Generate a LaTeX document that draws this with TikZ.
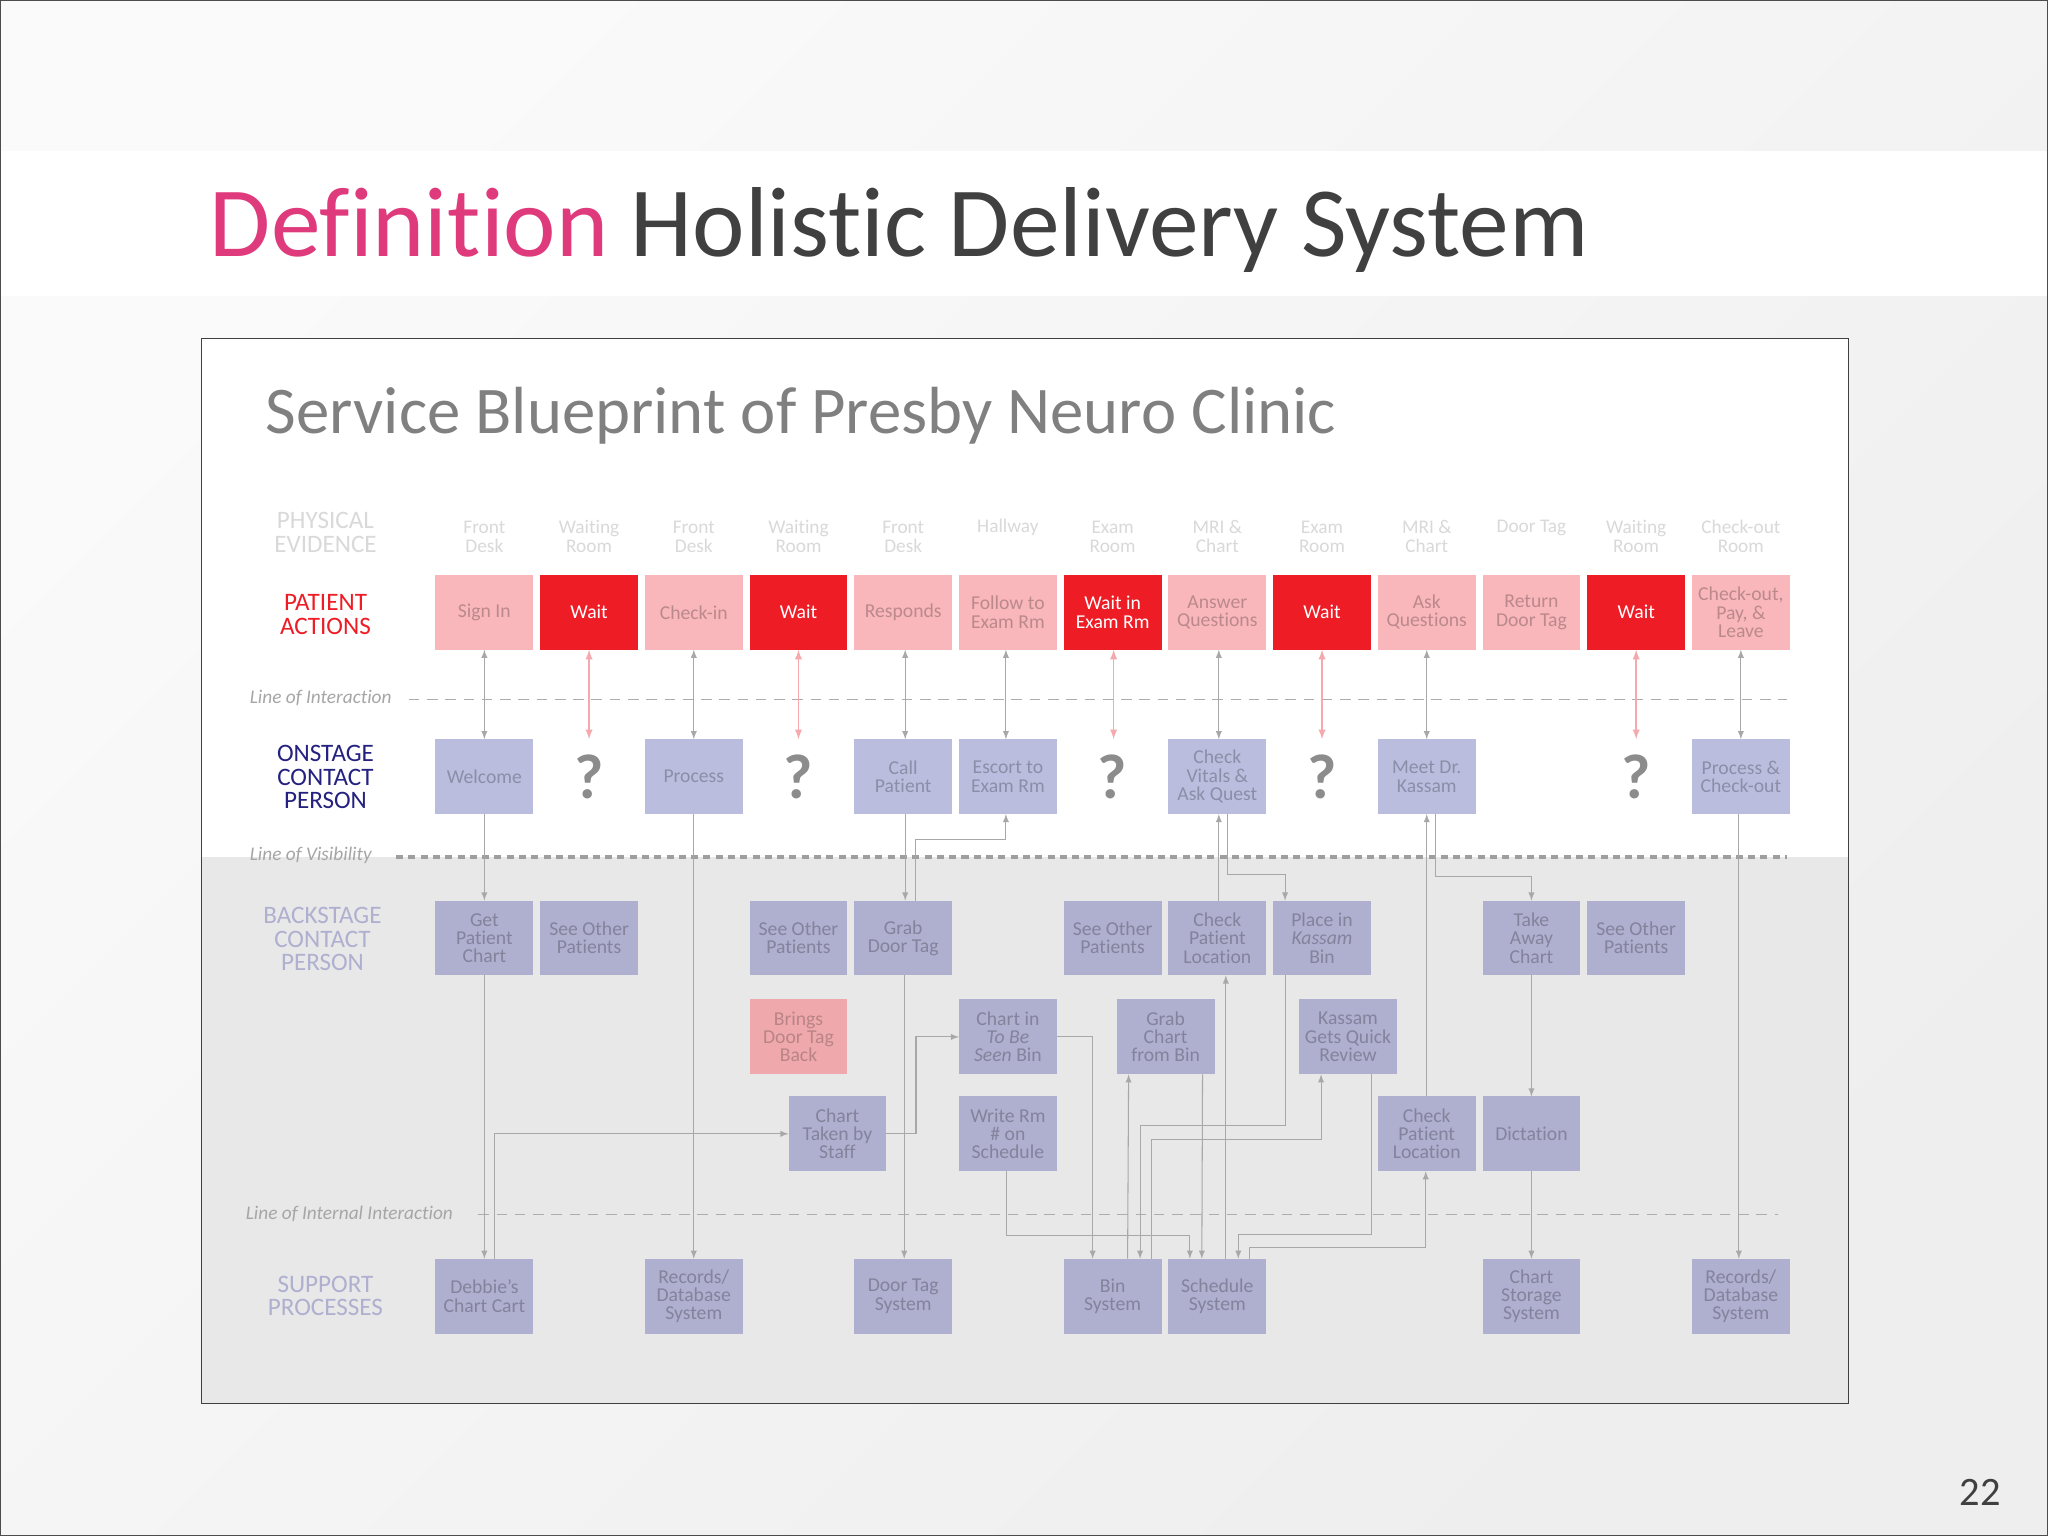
\documentclass[tikz,border=0pt]{standalone}
\usepackage{fontspec}
\setmainfont{Carlito}[Ligatures=NoCommon]
\usetikzlibrary{positioning, arrows, calc}

\definecolor{pagelight}{HTML}{FAFAFA}
\definecolor{pagegray}{HTML}{EEEEEE}
\definecolor{panelgray}{HTML}{E8E8E8}
\definecolor{titlepink}{HTML}{DF3A7C}
\definecolor{titledark}{HTML}{404040}
\definecolor{lightpink}{HTML}{F9B7BB}
\definecolor{waitred}{HTML}{EE1C25}
\definecolor{onblue}{HTML}{BBBDDF}
\definecolor{backblue}{HTML}{AFAFD0}
\definecolor{bringpink}{HTML}{EFA9AC}
\definecolor{linkgray}{HTML}{A8A8A8}
\definecolor{linkpink}{HTML}{F5A9AE}

\begin{document}
\begin{tikzpicture}[x=0.02cm, y=-0.02cm,
        boxbase/.style={rectangle, minimum width=1.96cm, minimum height=1.5cm, inner sep=0pt, outer sep=0pt, align=center, font=\fontsize{11.2}{10.4}\selectfont},
        pinkbox/.style={boxbase, fill=lightpink, text=black!25!lightpink},
        redbox/.style={boxbase, fill=waitred, text=white},
        onbox/.style={boxbase, fill=onblue, text=black!25!onblue},
        backbox/.style={boxbase, fill=backblue, text=black!25!backblue},
        bringbox/.style={boxbase, fill=bringpink, text=black!22!bringpink},
        askmark/.style={minimum width=1.96cm, minimum height=1.5cm, inner sep=0pt, outer sep=0pt, text=black!45, font=\fontsize{36}{36}\selectfont\bfseries},
        evid/.style={minimum width=1.96cm, inner sep=0pt, outer sep=0pt, align=center, text=black!15, font=\fontsize{11}{11}\selectfont},
        rowlabel/.style={inner sep=0pt, align=center, font=\fontsize{14.3}{13.5}\selectfont},
        linelabel/.style={inner sep=0pt, text=black!35, font=\fontsize{11}{11}\selectfont\itshape},
        link/.style={draw=linkgray, line width=0.6pt, -latex},
        both/.style={draw=linkgray, line width=0.6pt, latex-latex},
        pinklink/.style={draw=linkpink, line width=0.9pt, latex-latex},
        node distance=0.136cm]

        % Fondo
        \shade[shading=axis, top color=pagelight, bottom color=pagegray, shading angle=45] (0,0) rectangle (2048,1536);
        \fill[white] (0,150) rectangle (2048,296);
        \draw[black!70, line width=0.8pt] (0,0) rectangle (2048,1536);
        \fill[white] (201,338) rectangle (1849,857);
        \fill[panelgray] (201,857) rectangle (1849,1404);
        \draw[black!75, line width=0.7pt] (201,338) rectangle (1849,1404);

        % Titulos
        \node (head) [anchor=base west, inner sep=0pt, text=titledark, font=\fontsize{56.6}{57}\selectfont] at (209,256) {\textcolor{titlepink}{Definition} Holistic Delivery System};
        \node (sub) [anchor=base west, inner sep=0pt, text=black!50, font=\fontsize{38}{38}\selectfont] at (265,433) {Service Blueprint of Presby Neuro Clinic};
        \node (page) [inner sep=0pt, text=titledark, font=\fontsize{23}{23}\selectfont] at (1981,1493) {22};

        % Acciones del paciente
        \node (signin) [pinkbox] at (484,612) {Sign In};
        \node (wait1) [redbox, right=of signin] {Wait};
        \node (checkin) [pinkbox, right=of wait1] {Check-in};
        \node (wait2) [redbox, right=of checkin] {Wait};
        \node (responds) [pinkbox, right=of wait2] {Responds};
        \node (follow) [pinkbox, right=of responds] {Follow to\\Exam Rm};
        \node (waitexam) [redbox, right=of follow] {Wait in\\Exam Rm};
        \node (answer) [pinkbox, right=of waitexam] {Answer\\Questions};
        \node (wait3) [redbox, right=of answer] {Wait};
        \node (ask) [pinkbox, right=of wait3] {Ask\\Questions};
        \node (returntag) [pinkbox, right=of ask] {Return\\Door Tag};
        \node (wait4) [redbox, right=of returntag] {Wait};
        \node (leave) [pinkbox, right=of wait4] {Check-out,\\Pay, \&\\Leave};

        % Evidencia fisica
        \node (ev1) [evid, above=0.44cm of signin] {Front\\Desk};
        \node (ev2) [evid, above=0.44cm of wait1] {Waiting\\Room};
        \node (ev3) [evid, above=0.44cm of checkin] {Front\\Desk};
        \node (ev4) [evid, above=0.44cm of wait2] {Waiting\\Room};
        \node (ev5) [evid, above=0.44cm of responds] {Front\\Desk};
        \node (ev6) [evid, above=0.78cm of follow] {Hallway};
        \node (ev7) [evid, above=0.44cm of waitexam] {Exam\\Room};
        \node (ev8) [evid, above=0.44cm of answer] {MRI \&\\Chart};
        \node (ev9) [evid, above=0.44cm of wait3] {Exam\\Room};
        \node (ev10) [evid, above=0.44cm of ask] {MRI \&\\Chart};
        \node (ev11) [evid, above=0.78cm of returntag] {Door Tag};
        \node (ev12) [evid, above=0.44cm of wait4] {Waiting\\Room};
        \node (ev13) [evid, above=0.44cm of leave] {Check-out\\Room};

        % Contacto visible
        \node (welcome) [onbox, below=1.79cm of signin] {Welcome};
        \node (ask1) [askmark, below=1.79cm of wait1] {?};
        \node (process) [onbox, below=1.79cm of checkin] {Process};
        \node (ask2) [askmark, below=1.79cm of wait2] {?};
        \node (call) [onbox, below=1.79cm of responds] {Call\\Patient};
        \node (escort) [onbox, below=1.79cm of follow] {Escort to\\Exam Rm};
        \node (ask3) [askmark, below=1.79cm of waitexam] {?};
        \node (vitals) [onbox, below=1.79cm of answer] {Check\\Vitals \&\\Ask Quest};
        \node (ask4) [askmark, below=1.79cm of wait3] {?};
        \node (meet) [onbox, below=1.79cm of ask] {Meet Dr.\\Kassam};
        \node (ask5) [askmark, below=1.79cm of wait4] {?};
        \node (procout) [onbox, below=1.79cm of leave] {Process \&\\Check-out};

        % Contacto oculto
        \node (getchart) [backbox, below=1.73cm of welcome] {Get\\Patient\\Chart};
        \node (other1) [backbox, right=of getchart] {See Other\\Patients};
        \node (other2) [backbox, below=1.73cm of ask2] {See Other\\Patients};
        \node (grabtag) [backbox, below=1.73cm of call] {Grab\\Door Tag};
        \node (other3) [backbox, below=1.73cm of ask3] {See Other\\Patients};
        \node (checkloc) [backbox, below=1.73cm of vitals] {Check\\Patient\\Location};
        \node (place) [backbox, below=1.73cm of ask4] {Place in\\\textit{Kassam}\\Bin};
        \node (takeaway) [backbox, below=5.02cm of returntag] {Take\\Away\\Chart};
        \node (other4) [backbox, below=1.73cm of ask5] {See Other\\Patients};

        % Fila intermedia
        \node (brings) [bringbox, below=0.48cm of other2] {Brings\\Door Tag\\Back};
        \node (tobeseen) [backbox, below=3.71cm of escort] {Chart in\\\textit{To Be}\\\textit{Seen} Bin};
        \node (grabchart) [backbox, below=0.48cm of other3, xshift=1.06cm] {Grab\\Chart\\from Bin};
        \node (quick) [backbox, below=0.48cm of place, xshift=0.52cm] {Kassam\\Gets Quick\\Review};

        % Fila inferior de contacto
        \node (taken) [backbox, below=0.44cm of brings, xshift=0.78cm] {Chart\\Taken by\\Staff};
        \node (writerm) [backbox, below=0.44cm of tobeseen] {Write Rm\\\# on\\Schedule};
        \node (checkloc2) [backbox, below=5.65cm of meet] {Check\\Patient\\Location};
        \node (dictation) [backbox, below=2.42cm of takeaway] {Dictation};

        % Procesos de soporte
        \node (cart) [backbox, below=5.67cm of getchart] {Debbie's\\Chart Cart};
        \node (records1) [backbox, below=8.9cm of process] {Records/\\Database\\System};
        \node (tagsys) [backbox, below=8.9cm of call] {Door Tag\\System};
        \node (binsys) [backbox, below=8.9cm of ask3] {Bin\\System};
        \node (schedsys) [backbox, below=8.9cm of vitals] {Schedule\\System};
        \node (storage) [backbox, below=1.75cm of dictation] {Chart\\Storage\\System};
        \node (records2) [backbox, below=8.9cm of procout] {Records/\\Database\\System};

        % Etiquetas de fila
        \node (lphys) [rowlabel, text=black!15] at (325,532) {PHYSICAL\\EVIDENCE};
        \node (lpat) [rowlabel, text=waitred] at (325,614) {PATIENT\\ACTIONS};
        \node (lon) [rowlabel, text={rgb,255:red,36;green,33;blue,127}] at (325,777) {ONSTAGE\\CONTACT\\PERSON};
        \node (lback) [rowlabel, text=backblue] at (322,939) {BACKSTAGE\\CONTACT\\PERSON};
        \node (lsup) [rowlabel, text=backblue] at (325,1296) {SUPPORT\\PROCESSES};

        % Lineas divisorias
        \node (lint) [linelabel, anchor=west] at (249,698) {Line of Interaction};
        \node (lvis) [linelabel, anchor=west] at (249,855) {Line of Visibility};
        \node (lin) [linelabel, anchor=west] at (245,1214) {Line of Internal Interaction};
        \coordinate (intend) at (1788,699);
        \coordinate (visend) at (1788,857);
        \coordinate (inend) at (1778,1215);
        \draw[black!32, line width=0.6pt, dash pattern=on 6pt off 4.4pt] (lint.east) ++(17,1) -- (intend);
        \draw[black!38, line width=2.2pt, dash pattern=on 4pt off 3pt] (lvis.east) ++(24,2) -- (visend);
        \draw[black!32, line width=0.6pt, dash pattern=on 6pt off 4.4pt] (lin.east) ++(25,1) -- (inend);

        % Conexiones entre acciones y contacto
        \draw[both] (signin) -- (welcome);
        \draw[pinklink] (wait1) -- (ask1.north);
        \draw[both] (checkin) -- (process);
        \draw[pinklink] (wait2) -- (ask2.north);
        \draw[both] ([xshift=0.04cm]responds.south) -- ([xshift=0.04cm]call.north);
        \draw[both] ([xshift=-0.04cm]follow.south) -- ([xshift=-0.04cm]escort.north);
        \draw[pinklink] ([xshift=0.02cm]waitexam.south) -- ([xshift=0.02cm]ask3.north);
        \draw[both] ([xshift=0.03cm]answer.south) -- ([xshift=0.03cm]vitals.north);
        \draw[pinklink] (wait3) -- (ask4.north);
        \draw[both] (ask) -- (meet);
        \draw[pinklink] (wait4) -- (ask5.north);
        \draw[both] (leave) -- (procout);

        % Conexiones verticales
        \draw[link] (welcome) -- (getchart);
        \draw[link] (getchart) -- (cart);
        \draw[link] (process) -- (records1);
        \draw[link] ([xshift=0.04cm]call.south) -- ([xshift=0.04cm]grabtag.north);
        \draw[link] ([xshift=0.02cm]grabtag.south) -- ([xshift=0.02cm]tagsys.north);
        \draw[link] (takeaway) -- (dictation);
        \draw[link] (dictation) -- (storage);
        \draw[link] ([xshift=-0.04cm]procout.south) -- ([xshift=-0.04cm]records2.north);
        \draw[link] ([xshift=0.03cm]checkloc.north) -- ([xshift=0.03cm]vitals.south);
        \draw[link] (checkloc2) -- (meet);

        % Conexiones con codo
        \draw[link] ([xshift=0.24cm]grabtag.north) |- ([xshift=-0.04cm, yshift=-0.5cm]escort.south) -- ([xshift=-0.04cm]escort.south);
        \draw[link] ([xshift=0.21cm]cart.north) |- (taken.west);
        \draw[link] (taken.east) -| ([xshift=-0.86cm]tobeseen.west) -- (tobeseen.west);
        \draw[link] (tobeseen.east) -| ([xshift=-0.4cm]binsys.north);
        \draw[link] ([xshift=-0.02cm]writerm.south) |- ([xshift=-0.55cm, yshift=0.46cm]schedsys.north) -- ([xshift=-0.55cm]schedsys.north);
        \draw[link] ([xshift=0.3cm]binsys.north) -- ([xshift=-0.74cm]grabchart.south);
        \draw[link] ([xshift=0.74cm]grabchart.south) -- ([xshift=-0.31cm]schedsys.north);
        \draw[link] ([xshift=0.17cm]schedsys.north) -- ([xshift=0.17cm]checkloc.south);
        \draw[link] ([xshift=0.21cm]vitals.south) |- ([xshift=-0.74cm, yshift=0.53cm]place.north) -- ([xshift=-0.74cm]place.north);
        \draw[link] ([xshift=-0.74cm]place.south) |- ([xshift=0.55cm, yshift=2.66cm]binsys.north) -- ([xshift=0.55cm]binsys.north);
        \draw[link] ([xshift=0.78cm]binsys.north) |- ([xshift=-0.54cm, yshift=-1.31cm]quick.south) -- ([xshift=-0.54cm]quick.south);
        \draw[link] ([xshift=0.47cm]quick.south) |- ([xshift=0.42cm, yshift=0.48cm]schedsys.north) -- ([xshift=0.42cm]schedsys.north);
        \draw[link] ([xshift=0.65cm]schedsys.north) |- ([xshift=-0.02cm, yshift=-1.53cm]checkloc2.south) -- ([xshift=-0.02cm]checkloc2.south);
        \draw[link] ([xshift=0.17cm]meet.south) |- ([yshift=0.49cm]takeaway.north) -- (takeaway.north);

\end{tikzpicture}
\end{document}
